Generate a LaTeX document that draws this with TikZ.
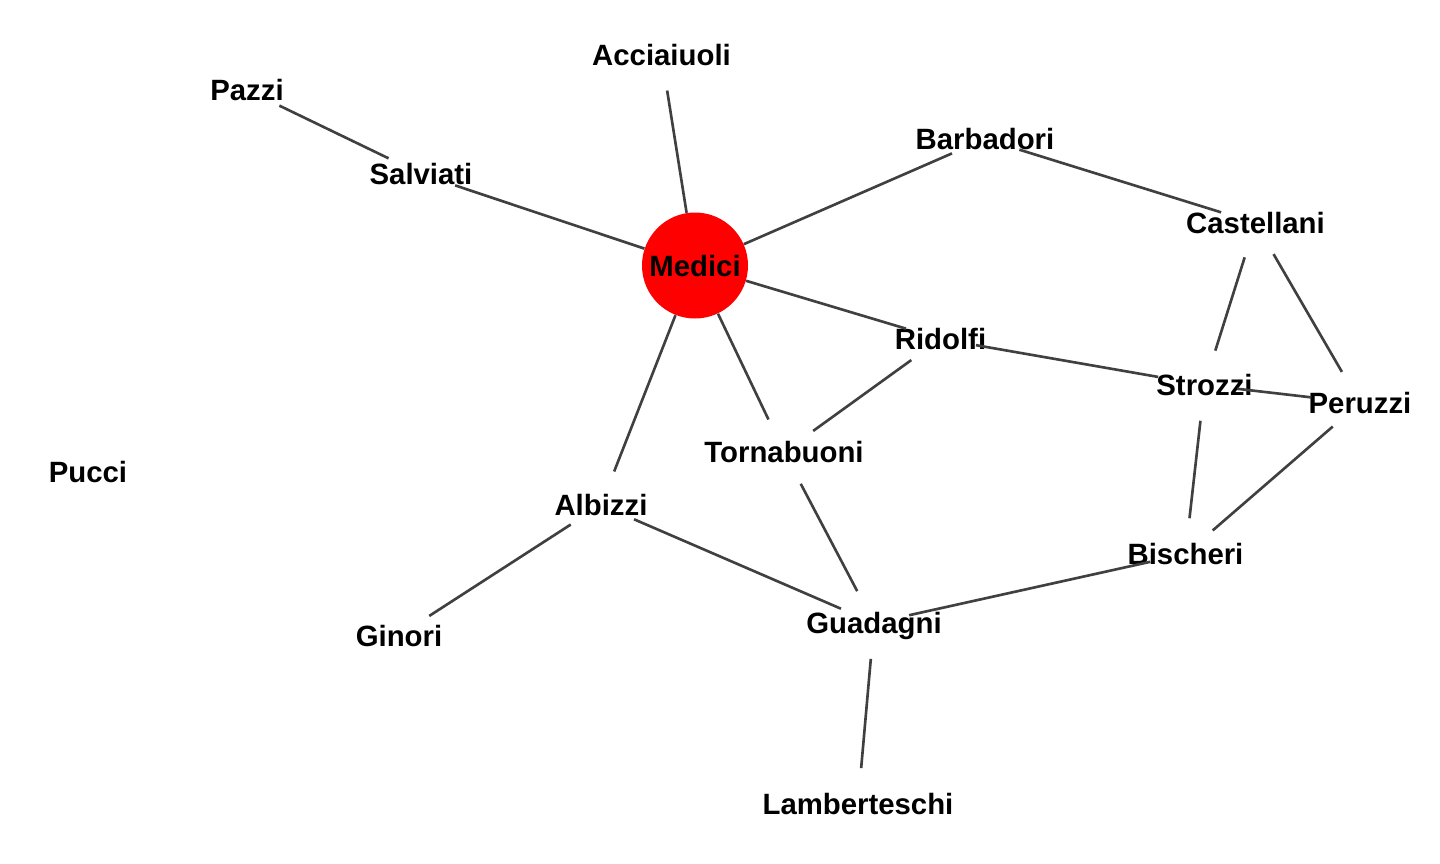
\documentclass[tikz,border=0pt]{standalone}
\usepackage{fontspec}
\setmainfont{Liberation Sans}
\usepackage{tikz}
\definecolor{tiegray}{RGB}{64,64,64}
\begin{document}
\begin{tikzpicture}[scale=0.2]
\tikzstyle{every node}+=[inner sep=0pt]
\tikzstyle{fam}=[font=\bfseries\fontsize{16.7}{20}\selectfont, text height=12pt, text depth=0pt]
\tikzstyle{tie}=[draw=tiegray, line width=1.5pt, shorten <=0.72cm, shorten >=0.72cm]
\useasboundingbox (0,0) rectangle (144,-86.4);
\node [fam, circle, fill=red, minimum size=2.12cm] (medici) at (69.5,-26.55) {Medici};
\node [fam] (acciaiuoli) at (66.15,-5.5) {Acciaiuoli};
\node [fam] (pazzi) at (24.7,-9) {Pazzi};
\node [fam] (barbadori) at (98.5,-13.9) {Barbadori};
\node [fam] (salviati) at (42.1,-17.4) {Salviati};
\node [fam] (castellani) at (125.55,-22.3) {Castellani};
\node [fam] (ridolfi) at (94.05,-33.9) {Ridolfi};
\node [fam] (strozzi) at (120.45,-38.5) {Strozzi};
\node [fam] (peruzzi) at (136,-40.3) {Peruzzi};
\node [fam] (pucci) at (8.8,-47.2) {Pucci};
\node [fam] (tornabuoni) at (78.4,-45.2) {Tornabuoni};
\node [fam] (albizzi) at (60.1,-50.5) {Albizzi};
\node [fam] (bischeri) at (118.55,-55.4) {Bischeri};
\node [fam] (ginori) at (39.9,-63.55) {Ginori};
\node [fam] (guadagni) at (87.4,-62.3) {Guadagni};
\node [fam] (lamberteschi) at (85.8,-80.4) {Lamberteschi};
\draw [tie, shorten <=0pt] (medici) -- (acciaiuoli.center);
\draw [tie, shorten <=0pt] (medici) -- (salviati.center);
\draw [tie, shorten <=0pt] (medici) -- (barbadori.center);
\draw [tie, shorten <=0pt] (medici) -- (ridolfi.center);
\draw [tie, shorten <=0pt] (medici) -- (tornabuoni.center);
\draw [tie, shorten <=0pt] (medici) -- (albizzi.center);
\draw [tie] (pazzi.center) -- (salviati.center);
\draw [tie] (barbadori.center) -- (castellani.center);
\draw [tie] (castellani.center) -- (strozzi.center);
\draw [tie] (castellani.center) -- (peruzzi.center);
\draw [tie, shorten >=0.94cm] (ridolfi.center) -- (strozzi.center);
\draw [tie, shorten <=0.66cm, shorten >=0.98cm] (strozzi.center) -- (peruzzi.center);
\draw [tie] (ridolfi.center) -- (tornabuoni.center);
\draw [tie] (strozzi.center) -- (bischeri.center);
\draw [tie] (peruzzi.center) -- (bischeri.center);
\draw [tie] (bischeri.center) -- (guadagni.center);
\draw [tie] (tornabuoni.center) -- (guadagni.center);
\draw [tie] (albizzi.center) -- (guadagni.center);
\draw [tie] (albizzi.center) -- (ginori.center);
\draw [tie] (guadagni.center) -- (lamberteschi.center);
\end{tikzpicture}
\end{document}
